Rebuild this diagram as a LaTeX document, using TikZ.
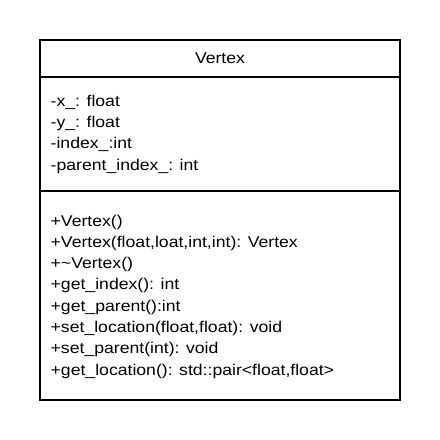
\documentclass[tikz,border=0pt]{standalone}
\usepackage{fontspec}
\setmainfont{Liberation Sans}
\newfontfamily\umlfont[FakeStretch=1.13]{Liberation Sans}
\newcommand{\us}{\char95\relax}
\begin{document}
\begin{tikzpicture}[x=1pt,y=-1pt,
  boxline/.style={draw=black,line width=2.2pt},
  member/.style={anchor=base west,inner sep=0pt,font=\umlfont\fontsize{15.6}{18}\selectfont}]
\useasboundingbox[fill=white] (0,0) rectangle (440,440);
\coordinate (tl) at (40,40);
\coordinate (br) at (400,400);
\coordinate (s1l) at (40,77);
\coordinate (s1r) at (400,77);
\coordinate (s2l) at (40,191);
\coordinate (s2r) at (400,191);
\draw[boxline] (tl) rectangle (br);
\draw[boxline] (s1l) -- (s1r);
\draw[boxline] (s2l) -- (s2r);
\node[member,anchor=base] (title) at (220,63.3) {Vertex};
\node[member] (a1) at (50.5,106) {-x\us: float};
\node[member] (a2) at (50.5,127.3) {-y\us: float};
\node[member] (a3) at (50.5,148.6) {-index\us:int};
\node[member] (a4) at (50.5,170) {-parent\us index\us: int};
\node[member] (m1) at (50.5,226) {+Vertex()};
\node[member] (m2) at (50.5,247.3) {+Vertex(float,loat,int,int): Vertex};
\node[member] (m3) at (50.5,268.6) {+\char`\~Vertex()};
\node[member] (m4) at (50.5,289.9) {+get\us index(): int};
\node[member] (m5) at (50.5,311.1) {+get\us parent():int};
\node[member] (m6) at (50.5,332.4) {+set\us location(float,float): void};
\node[member] (m7) at (50.5,353.7) {+set\us parent(int): void};
\node[member] (m8) at (50.5,375) {+get\us location(): std::pair<float,float>};
\end{tikzpicture}
\end{document}
